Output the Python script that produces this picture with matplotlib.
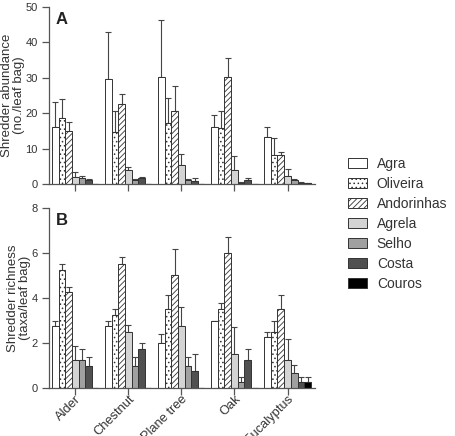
import numpy as np
import matplotlib
matplotlib.use("Agg")
import matplotlib.pyplot as plt

plt.rcParams['font.family'] = ['Liberation Sans', 'DejaVu Sans']
plt.rcParams['hatch.linewidth'] = 0.6

litter = ['Alder', 'Chestnut', 'Plane tree', 'Oak', 'Eucalyptus']
streams = ['Agra', 'Oliveira', 'Andorinhas', 'Agrela', 'Selho', 'Costa', 'Couros']

# shredder abundance (mean, SE) per stream, one list per stream over litter types
abund = {
    'Agra':       [16.2, 29.6, 30.3, 16.0, 13.3],
    'Oliveira':   [18.6, 14.8, 17.2, 15.9, 8.3],
    'Andorinhas': [15.0, 22.6, 20.5, 30.1, 8.2],
    'Agrela':     [1.9, 4.0, 5.3, 4.0, 2.2],
    'Selho':      [1.6, 1.1, 1.1, 0.4, 1.0],
    'Costa':      [1.1, 1.7, 0.8, 1.2, 0.4],
    'Couros':     [0.0, 0.0, 0.0, 0.0, 0.3],
}
abund_se = {
    'Agra':       [7.1, 13.3, 16.1, 3.4, 2.9],
    'Oliveira':   [5.4, 5.7, 7.1, 4.7, 4.6],
    'Andorinhas': [2.6, 2.8, 7.3, 5.5, 0.7],
    'Agrela':     [1.4, 0.7, 3.1, 3.8, 2.0],
    'Selho':      [0.6, 0.2, 0.3, 0.1, 0.5],
    'Costa':      [0.3, 0.3, 0.8, 0.5, 0.1],
    'Couros':     [0.0, 0.0, 0.0, 0.0, 0.1],
}
# shredder richness (mean, SE)
rich = {
    'Agra':       [2.75, 2.75, 2.0, 3.0, 2.25],
    'Oliveira':   [5.25, 3.25, 3.5, 3.5, 2.5],
    'Andorinhas': [4.25, 5.5, 5.0, 6.0, 3.5],
    'Agrela':     [1.25, 2.5, 2.75, 1.5, 1.25],
    'Selho':      [1.25, 1.0, 1.0, 0.25, 0.67],
    'Costa':      [1.0, 1.75, 0.75, 1.25, 0.25],
    'Couros':     [0.0, 0.0, 0.0, 0.0, 0.25],
}
rich_se = {
    'Agra':       [0.25, 0.25, 0.4, 0.0, 0.25],
    'Oliveira':   [0.25, 0.25, 0.65, 0.3, 0.5],
    'Andorinhas': [0.25, 0.3, 1.17, 0.72, 0.65],
    'Agrela':     [0.63, 0.3, 0.85, 1.2, 0.95],
    'Selho':      [0.48, 0.4, 0.4, 0.25, 0.35],
    'Costa':      [0.4, 0.25, 0.75, 0.48, 0.25],
    'Couros':     [0.0, 0.0, 0.0, 0.0, 0.25],
}

face = {'Agra': 'white', 'Oliveira': 'white', 'Andorinhas': 'white',
        'Agrela': '#d4d4d4', 'Selho': '#a0a0a0', 'Costa': '#505050', 'Couros': 'black'}
hatch = {'Oliveira': '....', 'Andorinhas': '//////'}

fig = plt.figure(figsize=(4.56, 4.36), dpi=100)
axA = fig.add_axes([0.107, 0.578, 0.584, 0.406])
axB = fig.add_axes([0.107, 0.110, 0.584, 0.413])

x = np.arange(len(litter))
w = 0.126

def draw(ax, means, ses, ymax, step, ylabel, letter):
    for i, s in enumerate(streams):
        pos = x + (i - 3) * w
        ax.bar(pos, means[s], w, color=face[s], edgecolor='#333333', linewidth=0.7,
               hatch=hatch.get(s), label=s, zorder=2)
        ax.errorbar(pos, means[s], yerr=[np.zeros(len(litter)), ses[s]], fmt='none',
                    ecolor='#444444', elinewidth=0.8, capsize=2, capthick=0.8, zorder=1)
    ax.set_xlim(-0.5, 4.52)
    ax.set_ylim(0, ymax)
    ax.set_yticks(np.arange(0, ymax + 0.01, step))
    ax.set_xticks(x)
    for sp in ['top', 'right']:
        ax.spines[sp].set_visible(False)
    for sp in ['left', 'bottom']:
        ax.spines[sp].set_color('#555555')
        ax.spines[sp].set_linewidth(0.9)
    ax.tick_params(colors='#555555', labelcolor='#333333', length=5, width=0.9)
    ax.tick_params(axis='y', labelsize=8, pad=3)
    ax.tick_params(axis='x', labelsize=9.3, pad=-1.5)
    ax.set_ylabel(ylabel, fontsize=9.5, color='#333333', linespacing=1.05, labelpad=0)
    ax.text(0.025, 0.97, letter, transform=ax.transAxes, fontsize=12, fontweight='bold',
            va='top', color='#222222')

draw(axA, abund, abund_se, 50, 10, 'Shredder abundance\n(no./leaf bag)', 'A')
draw(axB, rich, rich_se, 8, 2, 'Shredder richness\n(taxa/leaf bag)', 'B')
axA.set_xticklabels([])
axB.set_xticklabels(litter, rotation=45, ha='right', rotation_mode='anchor')

handles, labels = axA.get_legend_handles_labels()
fig.legend(handles, labels, loc='upper left', bbox_to_anchor=(0.735, 0.668), frameon=False,
           fontsize=10, handlelength=1.4, handleheight=0.75, labelspacing=0.43,
           handletextpad=0.7, labelcolor='#333333')

fig.savefig('out.png', dpi=100)
